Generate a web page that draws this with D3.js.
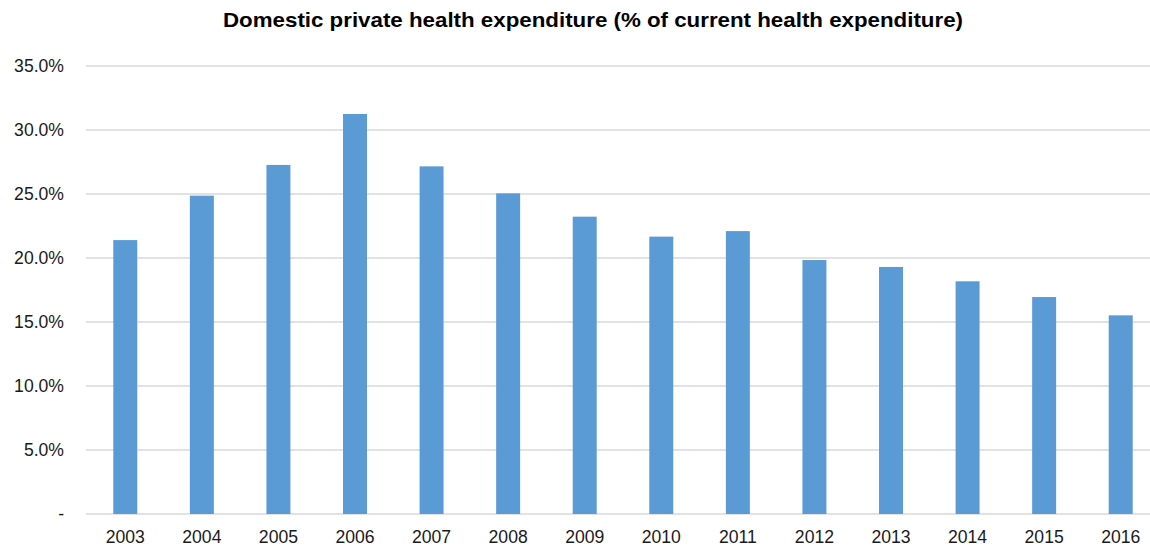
<!DOCTYPE html>
<html>
<head>
<meta charset="utf-8">
<script src="https://cdn.jsdelivr.net/npm/d3@7"></script>
<style>
  html, body { margin: 0; padding: 0; background: #fff; }
  svg { display: block; font-family: "Liberation Sans", Arial, sans-serif; }
</style>
</head>
<body>
<svg id="chart" width="1150" height="546"></svg>
<script>
// Domestic private health expenditure, share of current health expenditure (%)
const years = ["2003", "2004", "2005", "2006", "2007", "2008", "2009",
               "2010", "2011", "2012", "2013", "2014", "2015", "2016"];
const shares = [21.4, 24.87, 27.27, 31.25, 27.16, 25.05, 23.23,
                21.67, 22.1, 19.84, 19.3, 18.18, 16.95, 15.52];
const yTicks = [0, 5, 10, 15, 20, 25, 30, 35];
const titleText = "Domestic private health expenditure (% of current health expenditure)";

const svg = d3.select("#chart");
const W = 1150, H = 546;
const margin = { top: 66, right: -9, bottom: 32, left: 87 };
const labelSize = 17.6;

const x = d3.scaleBand()
  .domain(years)
  .range([margin.left, W - margin.right])
  .paddingInner(0.687)
  .paddingOuter(0.687 / 2);

const y = d3.scaleLinear()
  .domain([0, 35])
  .range([H - margin.bottom, margin.top]);

// Horizontal gridlines
svg.append("g")
  .selectAll("line")
  .data(yTicks)
  .join("line")
  .attr("x1", margin.left - 1)
  .attr("x2", W)
  .attr("y1", d => y(d))
  .attr("y2", d => y(d))
  .attr("stroke", "#d9d9d9")
  .attr("stroke-width", 1.5);

// Y axis labels
const yAxis = d3.axisLeft(y)
  .tickValues(yTicks)
  .tickSize(0)
  .tickPadding(0)
  .tickFormat(d => d === 0 ? "-" : d.toFixed(1) + "%");

svg.append("g")
  .attr("transform", `translate(${64},0)`)
  .call(yAxis)
  .call(g => g.select(".domain").remove())
  .call(g => g.selectAll("text")
    .attr("font-size", labelSize)
    .attr("font-family", "Liberation Sans, Arial, sans-serif")
    .attr("fill", "#1a1a1a"));

// Bars
svg.append("g")
  .selectAll("rect")
  .data(years.map((yr, i) => ({ yr, v: shares[i] })))
  .join("rect")
  .attr("x", d => x(d.yr))
  .attr("width", x.bandwidth())
  .attr("y", d => y(d.v))
  .attr("height", d => y(0) - y(d.v))
  .attr("fill", "#5b9bd5");

// X axis labels
const xAxis = d3.axisBottom(x).tickSize(0).tickPadding(16.5);
svg.append("g")
  .attr("transform", `translate(0,${y(0)})`)
  .call(xAxis)
  .call(g => g.select(".domain").remove())
  .call(g => g.selectAll("text")
    .attr("font-size", labelSize)
    .attr("font-family", "Liberation Sans, Arial, sans-serif")
    .attr("fill", "#1a1a1a"));

// Title
svg.append("text")
  .attr("x", 593)
  .attr("y", 27)
  .attr("text-anchor", "middle")
  .attr("font-size", 21)
  .attr("font-weight", "bold")
  .attr("fill", "#000")
  .attr("textLength", 740)
  .attr("lengthAdjust", "spacingAndGlyphs")
  .text(titleText);
</script>
</body>
</html>
